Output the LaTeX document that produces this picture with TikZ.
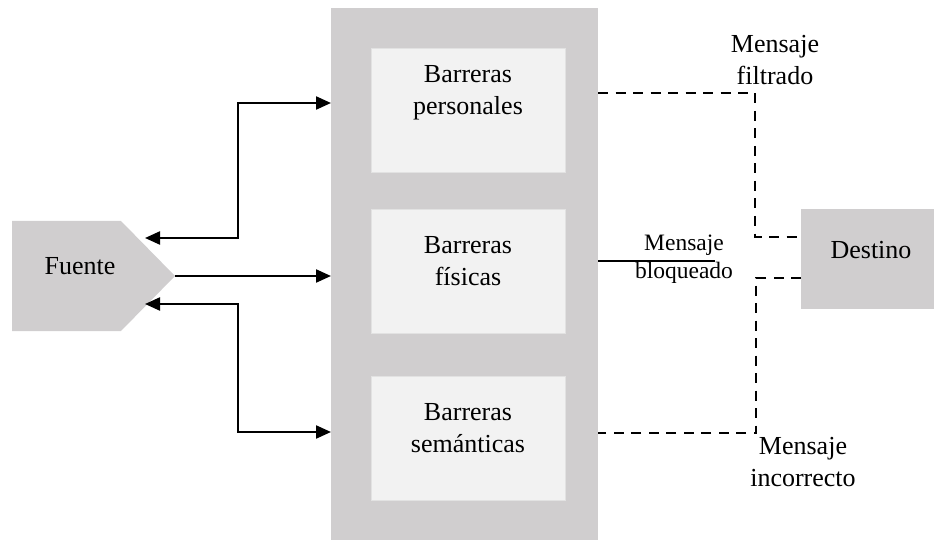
\documentclass[tikz,border=0pt]{standalone}
\usepackage{fontspec}
\setmainfont{Liberation Serif}
\usetikzlibrary{arrows.meta}
\definecolor{panelgray}{HTML}{D0CECF}
\definecolor{boxgray}{HTML}{F2F2F2}
\definecolor{boxedge}{HTML}{E2E2E2}
\tikzset{
  panel/.style={fill=panelgray, draw=none, inner sep=0pt, outer sep=0pt},
  barrier/.style={fill=boxgray, draw=boxedge, line width=0.8pt, inner sep=0pt, outer sep=0pt, minimum width=194pt, minimum height=124pt},
  lbl/.style={font=\rmfamily\fontsize{26}{32}\selectfont, align=center, inner sep=0pt, anchor=base},
  smalllbl/.style={font=\rmfamily\fontsize{23.5}{28}\selectfont, align=center, inner sep=0pt, anchor=base},
  conn/.style={line width=2.2pt, -{Triangle[length=15pt,width=13pt]}},
  biconn/.style={line width=2.2pt, {Triangle[length=15pt,width=13pt]}-{Triangle[length=15pt,width=13pt]}},
  dashconn/.style={line width=2pt, dash pattern=on 10pt off 7.5pt},
}
\begin{document}
\begin{tikzpicture}[x=1pt,y=-1pt]
\useasboundingbox (0,0) rectangle (934,540);
% big panel
\node[panel, minimum width=267pt, minimum height=533pt] (panel) at (464.5,274.5) {};
% barrier boxes
\node[barrier] (b1) at (468,110) {};
\node[barrier] (b2) at (468,271.5) {};
\node[barrier] (b3) at (468,438) {};
\node[lbl] (t1) at (468,115) {Barreras\\personales};
\node[lbl] (t2) at (468,285) {Barreras\\físicas};
\node[lbl] (t3) at (468,452) {Barreras\\semánticas};
% Fuente
\fill[panelgray] (12,221) -- (121,221) -- (175,276) -- (121,331) -- (12,331) -- cycle;
\coordinate (ftip) at (175,276);
\coordinate (fup) at (145,238);
\coordinate (fdown) at (145,304);
\node[lbl] (fuente) at (80,274) {Fuente};
% Destino
\node[panel, minimum width=133pt, minimum height=100pt] (dest) at (867.5,259) {};
\node[lbl] (destino) at (871,258) {Destino};
% connectors
\coordinate (a1) at (panel.west |- 0,103);
\coordinate (a2) at (panel.west |- 0,276);
\coordinate (a3) at (panel.west |- 0,432);
\draw[biconn] (fup) -- (238,238) -- (238,103) -- (a1);
\draw[conn] (ftip) -- (a2);
\draw[biconn] (fdown) -- (238,304) -- (238,432) -- (a3);
% dashed
\coordinate (d1) at (panel.east |- 0,93);
\coordinate (d3) at (panel.east |- 0,433);
\coordinate (e1) at (dest.west |- 0,237);
\coordinate (e2) at (dest.west |- 0,278);
\draw[dashconn] (d1) -- (755,93) -- (755,237) -- (e1);
\draw[dashconn] (e2) -- (756,278) -- (756,433) -- (d3);
% blocked
\coordinate (bl) at (panel.east |- 0,261);
\coordinate (blend) at (715,261);
\draw[line width=1.3pt] (bl) -- (blend);
\node[smalllbl] (mb) at (684,278) {Mensaje\\bloqueado};
\node[lbl] (mf) at (775,85) {Mensaje\\filtrado};
\node[lbl] (mi) at (803,486) {Mensaje\\incorrecto};
\end{tikzpicture}
\end{document}
